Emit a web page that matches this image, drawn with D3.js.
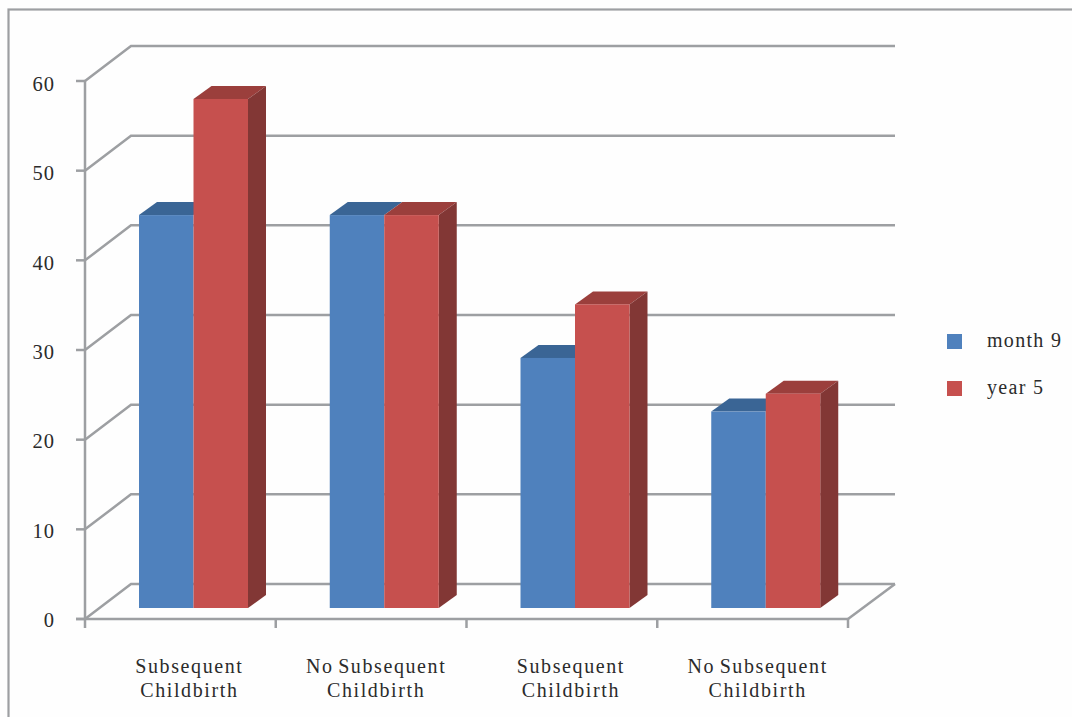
<!DOCTYPE html>
<html>
<head>
<meta charset="utf-8">
<script src="https://cdn.jsdelivr.net/npm/d3@7/dist/d3.min.js"></script>
<style>
  html, body { margin: 0; padding: 0; background: #fefefe; }
  svg { display: block; }
  text { font-family: "Liberation Serif", serif; fill: #2b2b2b; }
</style>
</head>
<body>
<svg id="chart" width="1072" height="717"></svg>
<script>
// Chart data
const categories = ["Subsequent|Childbirth", "No Subsequent|Childbirth", "Subsequent|Childbirth", "No Subsequent|Childbirth"];
const seriesNames = ["month 9", "year 5"];
const month9 = [44, 44, 28, 22];
const year5 = [57, 44, 34, 24];
const yTicks = [0, 10, 20, 30, 40, 50, 60];

const palette = {
  "month 9": { front: "#4f81bd", top: "#3a6595" },
  "year 5": { front: "#c6504e", top: "#9b3f3c", side: "#823735" }
};
const gridColor = "#9d9fa2";

const svg = d3.select("#chart");

// Outer frame runs off the bottom and right of the page
svg.append("rect")
  .attr("x", 8.5).attr("y", 9.5).attr("width", 1200).attr("height", 900)
  .attr("fill", "none").attr("stroke", gridColor).attr("stroke-width", 2.2);

// Oblique projection: front plane of the axes and back wall offset
const depthX = 46, depthY = -35;
const yAxis = d3.scaleLinear().domain([0, 60]).range([619, 81]);
const xAxis = d3.scaleBand().domain(d3.range(categories.length)).range([85, 848]);

const grid = svg.append("g").attr("fill", "none").attr("stroke", gridColor).attr("stroke-width", 2.5);

// Gridlines: left wall diagonal plus back wall horizontal
yTicks.forEach(t => {
  const y = yAxis(t);
  grid.append("path").attr("d", d3.line()([
    [xAxis.range()[0], y],
    [xAxis.range()[0] + depthX, y + depthY],
    [xAxis.range()[1] + depthX + 1, y + depthY]
  ]));
  grid.append("line").attr("x1", 76).attr("x2", xAxis.range()[0]).attr("y1", y).attr("y2", y);
});
// Floor right edge
grid.append("line")
  .attr("x1", xAxis.range()[1]).attr("y1", yAxis(0))
  .attr("x2", xAxis.range()[1] + depthX + 1).attr("y2", yAxis(0) + depthY);
// Axis lines and category ticks
grid.append("line").attr("x1", xAxis.range()[0]).attr("x2", xAxis.range()[0])
  .attr("y1", yAxis(60)).attr("y2", yAxis(0) + 9);
grid.append("line").attr("x1", 76).attr("x2", xAxis.range()[1])
  .attr("y1", yAxis(0)).attr("y2", yAxis(0));
d3.range(1, categories.length + 1).forEach(i => {
  const x = xAxis.range()[0] + i * xAxis.bandwidth();
  grid.append("line").attr("x1", x).attr("x2", x).attr("y1", yAxis(0)).attr("y2", yAxis(0) + 9);
});

// Bars sit on the floor, slightly behind the front plane
const barBase = 608;
const barScale = d3.scaleLinear().domain([0, 60]).range([barBase, barBase - 60 * 8.93]);
const barSeries = d3.scaleBand().domain(seriesNames).range([54, 163]);
const barDX = 18, barDY = -13;

const bars = svg.append("g");
function drawBar(cat, name, value) {
  const c = palette[name];
  const x0 = xAxis(cat) + barSeries(name);
  const x1 = x0 + barSeries.bandwidth();
  const top = barScale(value);
  const g = bars.append("g");
  g.append("polygon").attr("fill", c.top).attr("points", [
    [x0, top], [x0 + barDX, top + barDY], [x1 + barDX, top + barDY], [x1, top]
  ].join(" "));
  if (c.side) {
    g.append("polygon").attr("fill", c.side).attr("points", [
      [x1, top], [x1 + barDX, top + barDY], [x1 + barDX, barBase + barDY], [x1, barBase]
    ].join(" "));
  }
  g.append("rect").attr("x", x0).attr("y", top)
    .attr("width", x1 - x0).attr("height", barBase - top).attr("fill", c.front);
}
categories.forEach((_, i) => {
  drawBar(i, "month 9", month9[i]);
  drawBar(i, "year 5", year5[i]);
});

// Value axis labels
const labelY = d3.scaleLinear().domain([0, 60]).range([627, 91]);
svg.append("g").selectAll("text").data(yTicks).join("text")
  .attr("x", 55).attr("y", d => labelY(d))
  .attr("text-anchor", "end").attr("font-size", 20.5).attr("letter-spacing", 1)
  .text(d => d);

// Category labels, two lines each; the longer labels sit a little further left
const catLabels = svg.append("g");
categories.forEach((label, i) => {
  const nudge = label.startsWith("No") ? 5 : 9;
  const cx = xAxis(i) + xAxis.bandwidth() / 2 + nudge;
  label.split("|").forEach((line, j) => {
    catLabels.append("text")
      .attr("x", cx).attr("y", 673 + j * 24)
      .attr("text-anchor", "middle").attr("font-size", 20).attr("letter-spacing", 1.6)
      .attr("word-spacing", -2)
      .text(line);
  });
});

// Legend
const legend = svg.append("g");
seriesNames.forEach((name, i) => {
  legend.append("rect").attr("x", 947).attr("y", 334 + i * 47)
    .attr("width", 15).attr("height", 15).attr("fill", palette[name].front);
  legend.append("text").attr("x", 987).attr("y", 347 + i * 47)
    .attr("font-size", 20).attr("letter-spacing", 1.3).text(name);
});
</script>
</body>
</html>
